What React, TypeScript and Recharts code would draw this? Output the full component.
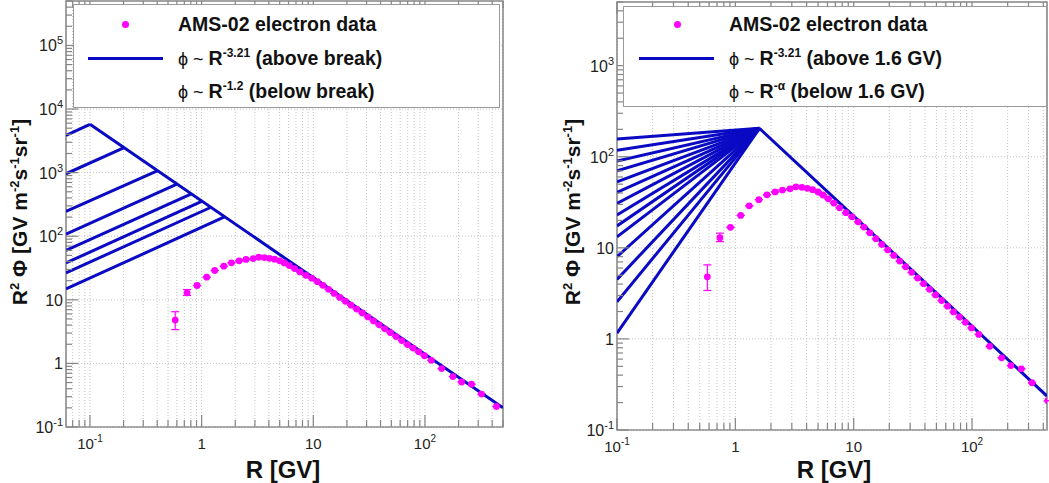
import { ComposedChart, Line, Scatter, XAxis, YAxis, CartesianGrid, ReferenceLine, ReferenceArea, ErrorBar } from 'recharts'

const BLUE = '#0a0ac4'
const PINK = '#ff00ff'
const FRAME = '#858585'
const GRID = '#c4c4c4'
const FONT = '"Liberation Sans", Arial, Helvetica, sans-serif'

// AMS-02 electron data: rigidity [GV] and R^2 * flux
const dataR = [0.58, 0.74, 0.91, 1.11, 1.31, 1.58, 1.85, 2.17, 2.5, 2.9, 3.25, 3.65, 4.05, 4.5, 5.0, 5.5, 6.1, 6.8, 7.6, 8.6, 9.7, 10.9, 12.2, 13.7, 15.4, 17.3, 19.4, 21.8, 24.5, 27.5, 30.9, 34.7, 39, 43.8, 49.2, 55.3, 62.1, 69.8, 78.4, 88, 99, 114, 141, 178, 213, 261, 321, 437]
const dataFlux = [4.8, 12.9, 16.8, 22.7, 28.9, 33.8, 38.2, 41.1, 43.1, 44.5, 46.8, 46.2, 45, 43.5, 41, 38, 34.5, 31, 27.5, 24.3, 21.9, 19.3, 16.9, 14.6, 12.6, 10.9, 9.5, 8.25, 7.15, 6.2, 5.38, 4.66, 4.04, 3.5, 3.04, 2.64, 2.29, 1.98, 1.74, 1.52, 1.32, 1.12, 0.83, 0.62, 0.51, 0.47, 0.33, 0.21]
const dataErrLow = [1.4, 1.2]
const dataErrHigh = [1.7, 1.6]

// left panel: breaks, value at break, value at left edge (R = 0.061)
const leftBreaks = [0.1, 0.2, 0.4, 0.6, 0.8, 1.0, 1.2, 1.6]
const leftBreakFlux = [5750, 2450, 1070, 660, 460, 352, 283, 201]
const leftEdgeFlux = [3850, 960, 245, 108, 60, 38, 26.5, 14.8]
const leftAbove = [{ R: 0.1, v: 5750 }, { R: 500, v: 0.2 }]

// right panel: one break at 1.6 GV, alpha runs from 1.9 down
const rightBreak = 1.6
const rightBreakFlux = 205
const rightEdgeFlux = [157, 118, 90, 70, 53, 40.5, 30.7, 22.9, 17.4, 13.2, 8.0, 4.5, 2.55, 1.16]
const rightAbove = [{ R: 1.6, v: 205 }, { R: 430, v: 0.236 }]

const points = dataR.map((R, i) => ({
  R,
  v: dataFlux[i],
  err: [dataErrLow[i] ?? 0, dataErrHigh[i] ?? 0],
}))

function logTicks(lo: number, hi: number) {
  const out: number[] = []
  for (let e = -2; e <= 6; e++) {
    for (let m = 1; m <= 9; m++) {
      const v = +(m * Math.pow(10, e)).toPrecision(3)
      if (v >= lo * 0.999 && v <= hi * 1.001) out.push(v)
    }
  }
  return out
}

function isDecade(v: number) {
  const e = Math.round(Math.log10(v))
  return Math.abs(v / Math.pow(10, e) - 1) < 1e-6
}

function decadeText(v: number) {
  const e = Math.round(Math.log10(v))
  if (e === 0) return ['1', '']
  if (e === 1) return ['10', '']
  return ['10', String(e)]
}

function makeXTick(plotH: number) {
  return (props: any) => {
    const { x, y, payload } = props
    const major = isDecade(payload.value)
    const len = major ? 12 : 7
    const [base, sup] = decadeText(payload.value)
    return (
      <g>
        <line x1={x} x2={x} y1={y} y2={y - len} stroke={FRAME} strokeWidth={1.2} />
        <line x1={x} x2={x} y1={y - plotH} y2={y - plotH + len} stroke={FRAME} strokeWidth={1.2} />
        {major && (
          <text x={x} y={y + 22} textAnchor="middle" fontSize={15} fontFamily={FONT} fill="#222">
            {base}
            {sup && <tspan dy={-7} fontSize={10}>{sup}</tspan>}
          </text>
        )}
      </g>
    )
  }
}

function makeYTick() {
  return (props: any) => {
    const { x, y, payload } = props
    const major = isDecade(payload.value)
    const len = major ? 12 : 6
    const [base, sup] = decadeText(payload.value)
    return (
      <g>
        <line x1={x} x2={x + len} y1={y} y2={y} stroke={FRAME} strokeWidth={1.2} />
        {major && (
          <text x={x - 3} y={y + 6} textAnchor="end" fontSize={16} fontFamily={FONT} fill="#222">
            {base}
            {sup && <tspan dy={-7} fontSize={11}>{sup}</tspan>}
          </text>
        )}
      </g>
    )
  }
}

function YTitle({ x, y }: { x: number; y: number }) {
  return (
    <text transform={`translate(${x},${y}) rotate(-90)`} textAnchor="middle" fontSize={21} fontWeight="bold" fontFamily={FONT} fill="#111">
      R<tspan dy={-8} fontSize={13}>2</tspan>
      <tspan dy={8}>{'  Φ [GV m'}</tspan>
      <tspan dy={-8} fontSize={13}>-2</tspan>
      <tspan dy={8}>s</tspan>
      <tspan dy={-8} fontSize={13}>-1</tspan>
      <tspan dy={8}>sr</tspan>
      <tspan dy={-8} fontSize={13}>-1</tspan>
      <tspan dy={8}>]</tspan>
    </text>
  )
}

function XTitle({ x, y }: { x: number; y: number }) {
  return (
    <text x={x} y={y} textAnchor="middle" fontSize={24} fontWeight="bold" fontFamily={FONT} fill="#111">
      R [GV]
    </text>
  )
}

interface PanelProps {
  width: number
  height: number
  margin: { top: number; right: number; bottom: number; left: number }
  yAxisWidth: number
  xAxisHeight: number
  xDomain: [number, number]
  yDomain: [number, number]
  lines: { R: number; v: number }[][]
  xTitleX: number
  yTitleX: number
}

function Panel({ width, height, margin, yAxisWidth, xAxisHeight, xDomain, yDomain, lines, xTitleX, yTitleX }: PanelProps) {
  const plotH = height - margin.top - margin.bottom - xAxisHeight
  const xTicks = logTicks(xDomain[0], xDomain[1])
  const yTicks = logTicks(yDomain[0], yDomain[1])
  const yDecades = yTicks.filter(isDecade)
  return (
    <ComposedChart width={width} height={height} margin={margin}>
      <CartesianGrid horizontal={false} stroke={GRID} strokeDasharray="1 2" />
      {yDecades.map((d) => (
        <ReferenceLine key={d} y={d} stroke={GRID} strokeDasharray="1 2" />
      ))}
      <XAxis
        dataKey="R"
        type="number"
        scale="log"
        domain={xDomain}
        allowDataOverflow
        ticks={xTicks}
        interval={0}
        tickSize={0}
        tickMargin={0}
        tickLine={false}
        axisLine={false}
        height={xAxisHeight}
        tick={makeXTick(plotH)}
        label={{ content: () => <XTitle x={xTitleX} y={478} /> }}
      />
      <YAxis
        dataKey="v"
        type="number"
        scale="log"
        domain={yDomain}
        allowDataOverflow
        ticks={yTicks}
        interval={0}
        tickSize={0}
        tickMargin={0}
        tickLine={false}
        axisLine={false}
        width={yAxisWidth}
        tick={makeYTick()}
        label={{ content: () => <YTitle x={yTitleX} y={212} /> }}
      />
      <Scatter
        data={points}
        dataKey="v"
        fill={PINK}
        isAnimationActive={false}
        shape={(p: any) => <circle cx={p.cx} cy={p.cy} r={3.4} fill={PINK} />}
      >
        <ErrorBar dataKey="err" direction="y" width={4} stroke={PINK} strokeWidth={1.2} />
      </Scatter>
      {lines.map((seg, i) => (
        <Line
          key={i}
          data={seg}
          dataKey="v"
          type="linear"
          stroke={BLUE}
          strokeWidth={3}
          dot={false}
          activeDot={false}
          isAnimationActive={false}
        />
      ))}
      <ReferenceArea
        x1={xDomain[0]}
        x2={xDomain[1]}
        y1={yDomain[0]}
        y2={yDomain[1]}
        fill="none"
        fillOpacity={0}
        stroke={FRAME}
        strokeWidth={1.5}
        ifOverflow="visible"
      />
    </ComposedChart>
  )
}

const legendText: React.CSSProperties = {
  position: 'absolute',
  fontFamily: FONT,
  fontWeight: 'bold',
  fontSize: 19.5,
  lineHeight: '24px',
  whiteSpace: 'nowrap',
  color: '#111',
}

const supStyle: React.CSSProperties = { fontSize: 12, position: 'relative', top: -8 }

function LegendBox({ left, top, width, height, textX, markX, lineX1, lineX2, rows, labels }: {
  left: number; top: number; width: number; height: number; textX: number; markX: number
  lineX1: number; lineX2: number; rows: number[]; labels: [string, string][]
}) {
  return (
    <div style={{ position: 'absolute', left, top, width, height, border: '1.5px solid #9a9a9a', background: '#fff', boxSizing: 'border-box' }}>
      <div style={{ position: 'absolute', left: markX - 3.5, top: rows[0] - 3.5, width: 7, height: 7, borderRadius: 4, background: PINK }} />
      <div style={{ ...legendText, left: textX, top: rows[0] - 12 }}>AMS-02 electron data</div>
      <div style={{ position: 'absolute', left: lineX1, top: rows[1] - 1.5, width: lineX2 - lineX1, height: 3, background: BLUE }} />
      {labels.map(([sup, rest], i) => (
        <div key={i} style={{ ...legendText, left: textX, top: rows[i + 1] - 12 }}>
          <span style={{ fontWeight: 'normal', fontSize: 18 }}>ϕ ~ </span>R<span style={supStyle}>{sup}</span> {rest}
        </div>
      ))}
    </div>
  )
}

const leftLines = [leftAbove, ...leftBreaks.map((b, i) => [{ R: 0.061, v: leftEdgeFlux[i] }, { R: b, v: leftBreakFlux[i] }])]
const rightLines = [rightAbove, ...rightEdgeFlux.map((f) => [{ R: 0.1, v: f }, { R: rightBreak, v: rightBreakFlux }])]

export default function App() {
  return (
    <div style={{ position: 'absolute', left: 0, top: 0, width: 1049, height: 483, background: '#fff', overflow: 'hidden' }}>
      <div style={{ position: 'absolute', left: 0, top: 0 }}>
        <Panel
          width={520}
          height={483}
          margin={{ top: 1, right: 17, bottom: 0, left: 0 }}
          yAxisWidth={66}
          xAxisHeight={56}
          xDomain={[0.061, 500]}
          yDomain={[0.1, 500000]}
          lines={leftLines}
          xTitleX={283}
          yTitleX={27}
        />
      </div>
      <div style={{ position: 'absolute', left: 525, top: 0 }}>
        <Panel
          width={524}
          height={483}
          margin={{ top: 2, right: 2, bottom: 0, left: 0 }}
          yAxisWidth={92}
          xAxisHeight={53}
          xDomain={[0.1, 430]}
          yDomain={[0.1, 5000]}
          lines={rightLines}
          xTitleX={309}
          yTitleX={55}
        />
      </div>
      <LegendBox
        left={73}
        top={4}
        width={427}
        height={104}
        textX={104}
        markX={51}
        lineX1={14}
        lineX2={89}
        rows={[19, 53, 86]}
        labels={[['-3.21', '(above break)'], ['-1.2', '(below break)']]}
      />
      <LegendBox
        left={623}
        top={6}
        width={424}
        height={101}
        textX={105}
        markX={53}
        lineX1={15}
        lineX2={90}
        rows={[17, 51, 84]}
        labels={[['-3.21', '(above 1.6 GV)'], ['-α', '(below 1.6 GV)']]}
      />
    </div>
  )
}
